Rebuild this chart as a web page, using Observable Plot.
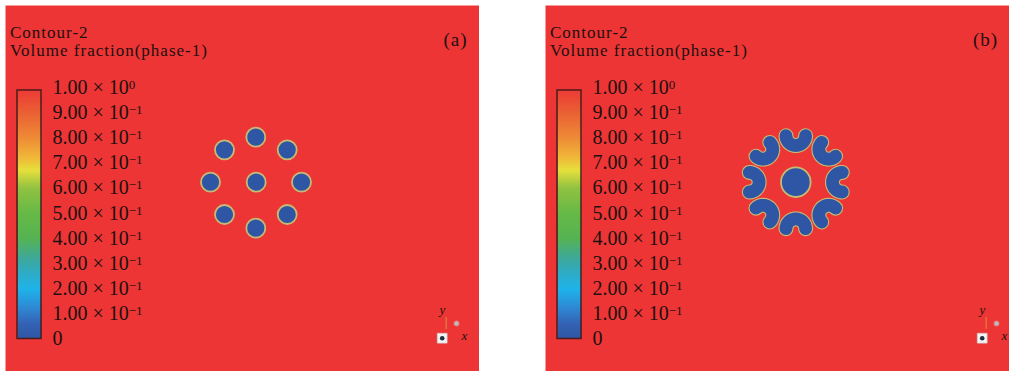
<!DOCTYPE html>
<html><head><meta charset="utf-8">
<script src="https://cdn.jsdelivr.net/npm/d3@7"></script>
<script src="https://cdn.jsdelivr.net/npm/@observablehq/plot@0.6"></script>
<style>
html,body{margin:0;padding:0;background:#fff;}
#wrap{position:relative;width:1009px;height:374px;overflow:hidden;background:#fff;}
.panel{position:absolute;top:5px;height:366px;overflow:hidden;}
.panel svg{position:absolute;left:0;top:0;}
</style></head><body><div id="wrap"></div>
<script>
// ---------- data ----------
// colour map of the volume-fraction legend (value -> colour)
const cmapStops  = [0, 0.06, 0.12, 0.2, 0.26, 0.32, 0.4, 0.5, 0.6, 0.67, 0.72, 0.8, 0.9, 1.0];
const cmapColors = ["#2f56a5", "#3462b4", "#2f86d2", "#1fb4ea", "#2eacc8", "#3ea89a", "#56b352", "#66b946", "#92c241", "#e6e03c", "#f0b838", "#ee8a36", "#ea6034", "#ed3535"];
// legend ticks
const tickValues   = [0, 0.1, 0.2, 0.3, 0.4, 0.5, 0.6, 0.7, 0.8, 0.9, 1.0];
const tickMantissa = ["0", "1.00", "2.00", "3.00", "4.00", "5.00", "6.00", "7.00", "8.00", "9.00", "1.00"];
const tickExponent = ["", "\u22121", "\u22121", "\u22121", "\u22121", "\u22121", "\u22121", "\u22121", "\u22121", "\u22121", "0"];
const titleLines  = ["Contour-2", "Volume fraction(phase-1)"];
const panelLabels = ["(a)", "(b)"];
// panel (a): nine circular droplets, centres and radii in mm
const dropAx = [25.07, 25.03, 25.03, 20.50, 29.60, 21.90, 28.17, 21.90, 28.17];
const dropAy = [18.93, 23.43, 14.33, 18.93, 18.93, 22.17, 22.17, 15.70, 15.70];
const dropAr = [0.95, 0.95, 0.95, 0.95, 0.95, 0.95, 0.95, 0.95, 0.95];
// panel (b): central droplet + eight crescent lobes opening outwards
const coreBx = [25.03], coreBy = [18.93], coreBr = [1.48];
const lobeAngle = [90, 45, 0, -45, -90, -135, 180, 135];   // direction from centre, deg
const lobeOrbit = [4.65, 4.65, 4.65, 4.65, 4.65, 4.65, 4.65, 4.65]; // mm
const lobeRho   = [0.98, 0.98, 0.98, 0.98, 0.98, 0.98, 0.98, 0.98]; // arc radius, mm
const lobeHalfSpan = [90, 90, 90, 90, 90, 90, 90, 90];      // deg
const domainWidth = [47.4, 46.4]; // mm shown in each panel
const domainHeight = 36.6;

// ---------- style ----------
const serif = "'Liberation Serif','Times New Roman',serif";
const ink = "#1c1010";
const ringColor = "#c6bb74";
const pxPerMM = 10;
const colorScale = {type: "linear", domain: cmapStops, range: cmapColors, interpolate: "rgb"};

const dropsA = dropAx.map((x, i) => ({x, y: dropAy[i], r: dropAr[i], phi: 0}));
const coreB = coreBx.map((x, i) => ({x, y: coreBy[i], r: coreBr[i], phi: 0}));
const lobePts = [];
lobeAngle.forEach((a, k) => {
  const ar = a * Math.PI / 180;
  const cx = coreBx[0] + lobeOrbit[k] * Math.cos(ar);
  const cy = coreBy[0] + lobeOrbit[k] * Math.sin(ar);
  const hs = lobeHalfSpan[k];
  for (let t = -hs; t <= hs + 1e-9; t += 5) {
    const th = ar + Math.PI + t * Math.PI / 180;
    lobePts.push({lobe: k, x: cx + lobeRho[k] * Math.cos(th), y: cy + lobeRho[k] * Math.sin(th), phi: 0});
  }
});

function triadMarks() {
  const fa = "bottom-left";
  return [
    Plot.text(["y"], {frameAnchor: fa, dx: 434, dy: -58, text: d => d, fontStyle: "italic", fontSize: 13, fontFamily: serif, fill: ink}),
    Plot.text(["\u2502"], {frameAnchor: fa, dx: 438, dy: -46, text: d => d, fontSize: 10, fill: "#d8a838"}),
    Plot.dot([0], {frameAnchor: fa, dx: 451, dy: -48, r: 2.5, fill: "#b9bdbd", stroke: "#e88080", strokeWidth: 1}),
    Plot.dot([0], {frameAnchor: fa, dx: 436.7, dy: -33.3, symbol: "square", r: 5.5, fill: "#f4f4f4", stroke: "#cfcfcf", strokeWidth: 0.8}),
    Plot.dot([0], {frameAnchor: fa, dx: 436.7, dy: -33.3, r: 2.3, fill: "#203040"}),
    Plot.text(["x"], {frameAnchor: fa, dx: 456, dy: -32, text: d => d, fontStyle: "italic", fontSize: 13, fontFamily: serif, fill: ink})
  ];
}

function fieldPlot(i) {
  const W = Math.round(domainWidth[i] * pxPerMM);
  const H = Math.round(domainHeight * pxPerMM);
  const marks = [
    Plot.frame({fill: cmapColors[cmapColors.length - 1], stroke: null})
  ];
  if (i === 0) {
    marks.push(Plot.dot(dropsA, {x: "x", y: "y", r: "r", fill: "phi", stroke: ringColor, strokeWidth: 1.8}));
  } else {
    marks.push(
      Plot.line(lobePts, {x: "x", y: "y", z: "lobe", stroke: ringColor, strokeWidth: 15, strokeLinecap: "round", strokeLinejoin: "round"}),
      Plot.line(lobePts, {x: "x", y: "y", z: "lobe", stroke: "phi", strokeWidth: 12.8, strokeLinecap: "round", strokeLinejoin: "round"}),
      Plot.dot(coreB, {x: "x", y: "y", r: "r", fill: "phi", stroke: ringColor, strokeWidth: 1.8})
    );
  }
  marks.push(
    Plot.text([titleLines.join("\n")], {frameAnchor: "top-left", dx: 4.5, dy: 19, text: d => d, lineAnchor: "top", lineHeight: 1.09, textAnchor: "start", fontSize: 17, fontFamily: serif, fill: ink}),
    Plot.text([panelLabels[i]], {frameAnchor: "top-right", dx: -24, dy: 34, text: d => d, lineAnchor: "middle", textAnchor: "middle", fontSize: 19, fontFamily: serif, fill: ink}),
    ...triadMarks()
  );
  const svg = Plot.plot({
    width: W, height: H, margin: 0,
    x: {domain: [0, domainWidth[i]], axis: null},
    y: {domain: [0, domainHeight], axis: null},
    r: {type: "linear", domain: [0, 1], range: [0, pxPerMM]},
    color: colorScale,
    style: {background: "transparent", overflow: "visible"},
    marks
  });
  svg.querySelectorAll("text").forEach(t => {
    const s = t.textContent;
    if (s.startsWith("Contour") || panelLabels.includes(s)) t.style.letterSpacing = "1px";
  });
  return svg;
}

function colorbarPlot() {
  const labelOf = v => {
    const k = tickValues.indexOf(v);
    const e = tickExponent[k];
    return e ? tickMantissa[k] + " \u00d7 10^" + e : tickMantissa[k];
  };
  const svg = Plot.plot({
    width: 12 + 24 + 170, height: 366,
    marginLeft: 12, marginRight: 170, marginTop: 81.7, marginBottom: 32.5,
    x: {domain: [0, 1], axis: null},
    y: {domain: [0, 1], axis: null},
    color: colorScale,
    style: {background: "transparent", overflow: "visible"},
    marks: [
      Plot.raster({fill: (x, y) => y, x1: 0, x2: 1, y1: 0, y2: 0.987, pixelSize: 1, imageRendering: "auto"}),
      Plot.rect([0], {x1: 0, x2: 1, y1: 0, y2: 0.987, fill: "none", stroke: "#4a1c1c", strokeWidth: 1.5}),
      Plot.axisY(tickValues, {anchor: "right", tickSize: 0, tickPadding: 11, tickFormat: labelOf, fontSize: 20, fontFamily: serif, fill: ink})
    ]
  });
  svg.querySelectorAll('g[aria-label="y-axis tick label"] text').forEach(t => {
    const s = t.textContent;
    const [base, exp] = s.split("^");
    t.textContent = base;
    if (exp) {
      const ts = document.createElementNS("http://www.w3.org/2000/svg", "tspan");
      ts.setAttribute("dy", "-5");
      ts.setAttribute("font-size", "13");
      ts.textContent = exp;
      t.appendChild(ts);
    }
  });
  return svg;
}

const wrap = document.getElementById("wrap");
const lefts = [5, 545];
[0, 1].forEach(i => {
  const p = document.createElement("div");
  p.className = "panel";
  p.style.left = lefts[i] + "px";
  p.style.width = Math.round(domainWidth[i] * pxPerMM) + "px";
  p.appendChild(fieldPlot(i));
  p.appendChild(colorbarPlot());
  wrap.appendChild(p);
});
</script></body></html>
